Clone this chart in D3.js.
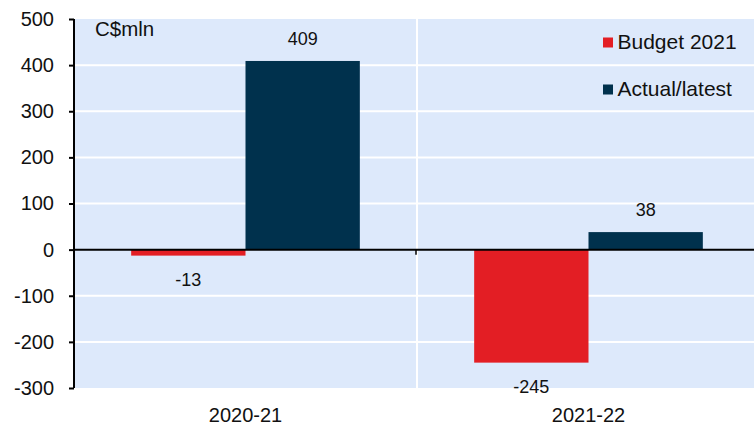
<!DOCTYPE html>
<html>
<head>
<meta charset="utf-8">
<script src="https://cdn.jsdelivr.net/npm/d3@7"></script>
<style>
  body { margin: 0; background: #fff; }
  text { font-family: "Liberation Sans", Arial, sans-serif; fill: #111; }
</style>
</head>
<body>
<div id="chart"></div>
<script>
// data
var categories = ["2020-21", "2021-22"];
var seriesNames = ["Budget 2021", "Actual/latest"];
var budget2021 = [-13, -245];
var actualLatest = [409, 38];
var yTicks = [-300, -200, -100, 0, 100, 200, 300, 400, 500];
var colors = ["#e31e24", "#00314d"];

var width = 754, height = 426;
var margin = { top: 19, right: -6, bottom: 38, left: 74 };
var innerWidth = width - margin.left - margin.right,
    innerHeight = height - margin.top - margin.bottom;

var rows = categories.map(function (c, i) {
    return { cat: c, values: [budget2021[i], actualLatest[i]] };
});

var svg = d3.select("#chart").append("svg")
    .attr("width", width)
    .attr("height", height);

var g = svg.append("g")
    .attr("transform", "translate(" + margin.left + "," + margin.top + ")");

var xScale = d3.scaleBand().domain(categories).range([0, innerWidth]);
var xSub = d3.scaleBand().domain(d3.range(seriesNames.length))
    .range([0, xScale.bandwidth()]).paddingOuter(0.5);
var yScale = d3.scaleLinear().domain([-300, 500]).range([innerHeight, 0]);

// plot background
g.append("rect")
    .attr("width", width - margin.left)
    .attr("height", innerHeight)
    .attr("fill", "#dde9fb");

// horizontal gridlines
g.selectAll(".grid")
    .data(yTicks.filter(function (d) { return d !== 0 && d !== 500 && d !== -300; }))
    .enter().append("line")
    .attr("x1", 0).attr("x2", width - margin.left)
    .attr("y1", function (d) { return yScale(d); })
    .attr("y2", function (d) { return yScale(d); })
    .attr("stroke", "#fff").attr("stroke-width", 2);

// category separators
g.selectAll(".sep")
    .data(categories.slice(1))
    .enter().append("line")
    .attr("x1", function (d) { return xScale(d); })
    .attr("x2", function (d) { return xScale(d); })
    .attr("y1", 0).attr("y2", innerHeight)
    .attr("stroke", "#fff").attr("stroke-width", 2);

// bars
var groups = g.selectAll(".cat")
    .data(rows)
    .enter().append("g")
    .attr("transform", function (d) { return "translate(" + xScale(d.cat) + ",0)"; });

groups.selectAll("rect")
    .data(function (d) { return d.values; })
    .enter().append("rect")
    .attr("x", function (d, i) { return xSub(i); })
    .attr("width", xSub.bandwidth())
    .attr("y", function (d) { return yScale(Math.max(0, d)); })
    .attr("height", function (d) { return Math.abs(yScale(d) - yScale(0)); })
    .attr("fill", function (d, i) { return colors[i]; });

groups.selectAll(".val")
    .data(function (d) { return d.values; })
    .enter().append("text")
    .attr("x", function (d, i) { return xSub(i) + xSub.bandwidth() / 2; })
    .attr("y", function (d) { return d >= 0 ? yScale(d) - 16 : yScale(d) + 30; })
    .attr("text-anchor", "middle")
    .style("font-size", "18px")
    .text(function (d) { return String(d); });

// zero line
g.append("line")
    .attr("x1", 0).attr("x2", width - margin.left)
    .attr("y1", yScale(0)).attr("y2", yScale(0))
    .attr("stroke", "#000").attr("stroke-width", 2);

// small ticks on zero line at category boundaries
g.selectAll(".ztick")
    .data(categories.slice(1))
    .enter().append("line")
    .attr("x1", function (d) { return xScale(d) - 1; })
    .attr("x2", function (d) { return xScale(d) - 1; })
    .attr("y1", yScale(0)).attr("y2", yScale(0) + 5)
    .attr("stroke", "#000").attr("stroke-width", 1.5);

// y axis (plain hyphen for negatives, like the original)
var yAxis = g.append("g")
    .call(d3.axisLeft(yScale).tickValues(yTicks).tickSize(5).tickPadding(15)
        .tickFormat(function (d) { return String(d); }));
yAxis.select(".domain").attr("stroke", "#000").attr("stroke-width", 2)
    .attr("d", "M0," + innerHeight + "V0");
yAxis.selectAll(".tick line").attr("stroke", "#000").attr("stroke-width", 2);
yAxis.selectAll(".tick text")
    .style("font-size", "20px")
    .style("font-family", "'Liberation Sans', Arial, sans-serif")
    .attr("fill", "#111");

// x labels
g.selectAll(".xlab")
    .data(categories)
    .enter().append("text")
    .attr("x", function (d) { return xScale(d) + xScale.bandwidth() / 2; })
    .attr("y", innerHeight + 33.5)
    .attr("text-anchor", "middle")
    .style("font-size", "20px")
    .text(function (d) { return d; });

// unit label
g.append("text")
    .attr("x", 21).attr("y", 17)
    .style("font-size", "20.5px")
    .text("C$mln");

// legend
var legend = g.selectAll(".legend")
    .data(seriesNames)
    .enter().append("g")
    .attr("transform", function (d, i) { return "translate(529," + (18.5 + i * 47) + ")"; });
legend.append("rect")
    .attr("width", 10).attr("height", 10)
    .attr("fill", function (d, i) { return colors[i]; });
legend.append("text")
    .attr("x", 14.5).attr("y", 11.5)
    .style("font-size", "21px")
    .text(function (d) { return d; });
</script>
</body>
</html>
